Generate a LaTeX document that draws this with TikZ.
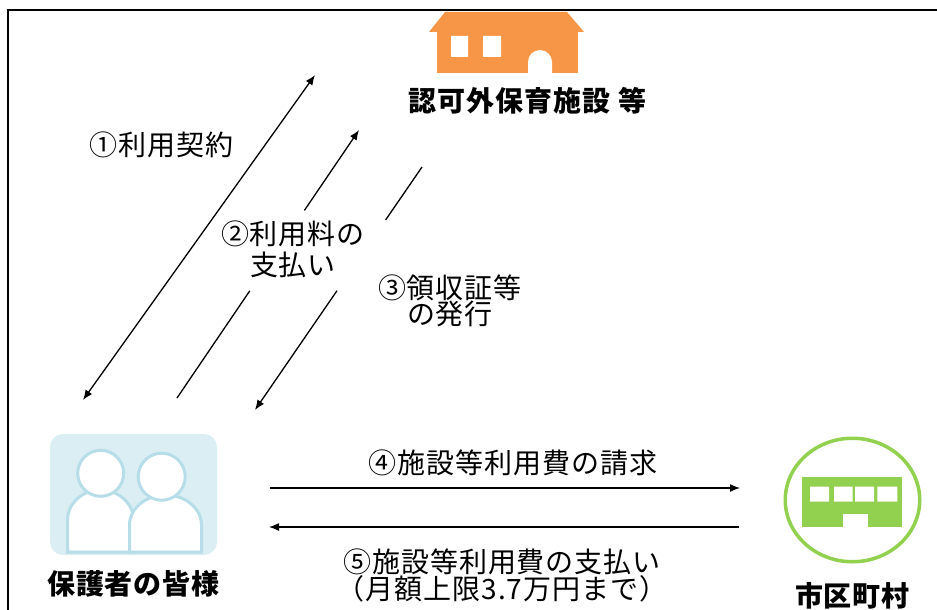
\documentclass[tikz,border=0pt]{standalone}
\usepackage{fontspec}
\setmainfont{Noto Sans CJK JP}[LetterSpace=3.5]
\usetikzlibrary{calc}
\usetikzlibrary{positioning,shapes,arrows.meta}
\definecolor{houseorange}{HTML}{F79646}
\definecolor{citygreen}{HTML}{92D050}
\definecolor{parentfill}{HTML}{DAEEF3}
\definecolor{parentline}{HTML}{B7DEE8}
\tikzstyle{txt} = [inner sep=0pt, align=center, font=\fontsize{28}{31}\selectfont]
\tikzstyle{boldtxt} = [inner sep=0pt, font=\fontsize{28}{31}\selectfont\bfseries]
\tikzstyle{plainline} = [line width=1.3pt]
\tikzstyle{arrow} = [-{Latex[length=10pt,width=8pt]},line width=1.3pt]
\tikzstyle{twoway} = [{Latex[length=10pt,width=8pt]}-{Latex[length=10pt,width=8pt]},line width=1.3pt]
\tikzstyle{person} = [fill=white, draw=parentline, line width=3pt]

\begin{document}
\begin{tikzpicture}[x=1pt,y=-1pt]
		\useasboundingbox (0,0) rectangle (937,610);
		\draw [line width=1.5pt] (8,610) -- (8,10) -- (937,10);
		
		% facility
		\fill [houseorange] (445,12) -- (567,12) -- (584,32) -- (429,32) -- cycle;
		\fill [houseorange] (437,32) rectangle (578,73);
		\fill [white] (451,36) rectangle (468,57) (483,36) rectangle (501,57);
		\fill [white] (528,73.5) -- (528,62) arc[start angle=180,end angle=0,radius=12pt] -- (552,73.5) -- cycle;
		\node (facility) [boldtxt] at (527.5,101) {認可外保育施設\hspace{0.3em}等};
		
		% parents
		\node (parents-icon) [fill=parentfill,rounded corners=13pt,minimum width=167pt,minimum height=121pt,inner sep=0pt] at (133.5,494.5) {};
		\filldraw [person] (67.5,552) -- (67.5,520) arc[start angle=180,end angle=0,x radius=33pt,y radius=30pt] -- (133.5,552) -- cycle;
		\filldraw [person] (100.7,473.3) circle[radius=23pt];
		\filldraw [person] (129.5,552) -- (129.5,525) arc[start angle=180,end angle=0,x radius=36pt,y radius=30pt] -- (201.5,552) -- cycle;
		\filldraw [person] (161.7,476.7) circle[radius=23.5pt];
		\node (parents) [boldtxt,below=15pt of parents-icon] {保護者の皆様};
		
		% city
		\node (city-icon) [ellipse,draw=citygreen,line width=3.5pt,minimum width=134.5pt,minimum height=123.5pt,inner sep=0pt] at (852.5,500) {};
		\fill [citygreen] (802.3,476.7) rectangle (902.3,526.7);
		\fill [white] (810,486.7) rectangle (829,501.7) (834,486.7) rectangle (852.7,501.7)
			(855,486.7) rectangle (874,501.7) (877.3,486.7) rectangle (897.3,501.7);
		\fill [white] (843.3,514) rectangle (867.7,527.5);
		\node (city) [boldtxt,below=19pt of city-icon] {市区町村};
		
		% labels
		\node (contract) [txt] at (161.5,145) {①利用契約};
		\node (fee) [txt] at (293,249.5) {②利用料の\\支払い};
		\node (receipt) [txt,font=\fontsize{28}{26.5}\selectfont] at (450,301) {③領収証等\\の発行};
		\node (claim) [txt] at (513,463) {④施設等利用費の請求};
		\node (payment) [txt,font=\fontsize{28}{27}\selectfont] at (502,575.5) {⑤施設等利用費の支払い\\（月額上限3.7万円まで）};
		
		% connectors
		\coordinate (contract-p) at (83,400);
		\coordinate (contract-f) at (315,75);
		\coordinate (fee-p) at (177,398);
		\coordinate (fee-f) at (359,130);
		\coordinate (fee-gap1) at ($(fee-p)!0.40!(fee-f)$);
		\coordinate (fee-gap2) at ($(fee-p)!0.70!(fee-f)$);
		\coordinate (receipt-f) at (422,167);
		\coordinate (receipt-p) at (255,410);
		\coordinate (receipt-gap1) at ($(receipt-f)!0.218!(receipt-p)$);
		\coordinate (receipt-gap2) at ($(receipt-f)!0.509!(receipt-p)$);
		\coordinate (claim-p) at (270,488);
		\coordinate (claim-c) at (740,488);
		\coordinate (payment-c) at (739,527);
		\coordinate (payment-p) at (269,527);
		
		\draw [twoway] (contract-p) -- (contract-f);
		\draw [plainline] (fee-p) -- (fee-gap1);
		\draw [arrow] (fee-gap2) -- (fee-f);
		\draw [plainline] (receipt-f) -- (receipt-gap1);
		\draw [arrow] (receipt-gap2) -- (receipt-p);
		\draw [arrow] (claim-p) -- (claim-c);
		\draw [arrow] (payment-c) -- (payment-p);
		
	\end{tikzpicture}
\end{document}
